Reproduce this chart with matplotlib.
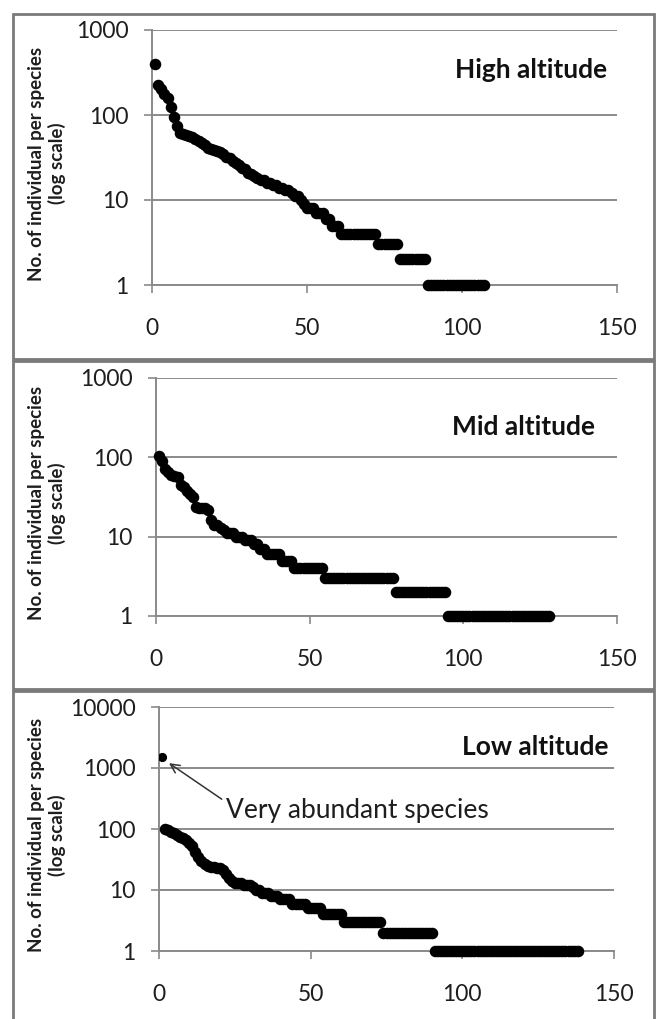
"""Rank-abundance plots for high / mid / low altitude, three stacked boxed panels. Writes out.png."""
import numpy as np
import matplotlib as mpl
mpl.use("Agg")
import matplotlib.pyplot as plt
from matplotlib.patches import Rectangle
from matplotlib.ticker import FixedLocator, NullLocator

plt.rcParams["font.family"] = ["Lato", "DejaVu Sans"]

W, H = 657, 1019
GRID = "#8a8a8a"
BORDER = "#7a7a7a"
INK = "#1e1e1e"

# individuals per species, species ranked from most to least abundant
high = [395, 225, 200, 175, 160, 125, 95, 75, 62, 60, 58, 56, 55, 52, 50, 47, 44, 41, 40, 39,
        38, 37, 35, 32, 31, 29, 27, 26, 24, 23, 21, 20, 19, 18, 17, 17, 16, 16, 15, 15,
        14, 14, 13, 13, 12, 11, 11, 10, 9, 8, 8, 8, 7, 7, 7, 6, 6, 5, 5, 5,
        4, 4, 4, 4, 4, 4, 4, 4, 4, 4, 4, 4,
        3, 3, 3, 3, 3, 3, 3,
        2, 2, 2, 2, 2, 2, 2, 2, 2,
        1, 1, 1, 1, 1, 1, 1, 1, 1, 1, 1, 1, 1, 1, 1, 1, 1, 1, 1]
mid = [105, 90, 72, 65, 60, 58, 57, 45, 42, 38, 35, 32, 24, 23, 23, 23, 22, 16, 14, 14,
       13, 12, 11, 11, 11, 10, 10, 10, 9, 9, 9, 8, 8, 7, 7, 6, 6, 6, 6, 6, 5, 5, 5, 5,
       4, 4, 4, 4, 4, 4, 4, 4, 4, 4,
       3, 3, 3, 3, 3, 3, 3, 3, 3, 3, 3, 3, 3, 3, 3, 3, 3, 3, 3, 3, 3, 3, 3,
       2, 2, 2, 2, 2, 2, 2, 2, 2, 2, 2, 2, 2, 2, 2, 2, 2,
       1, 1, 1, 1, 1, 1, 1, 1, 1, 1, 1, 1, 1, 1, 1, 1, 1, 1, 1, 1, 1, 1, 1, 1, 1, 1, 1, 1,
       1, 1, 1, 1, 1, 1]
low = [1500, 100, 95, 90, 85, 80, 75, 70, 65, 58, 52, 42, 35, 30, 27, 25, 24, 24, 23, 23,
       21, 18, 16, 14, 13, 13, 13, 12, 12, 12, 11, 10, 10, 9, 9, 9, 8, 8, 8, 7,
       7, 7, 7, 6, 6, 6, 6, 6, 5, 5, 5, 5, 5,
       4, 4, 4, 4, 4, 4, 4,
       3, 3, 3, 3, 3, 3, 3, 3, 3, 3, 3, 3, 3,
       2, 2, 2, 2, 2, 2, 2, 2, 2, 2, 2, 2, 2, 2, 2, 2, 2,
       1, 1, 1, 1, 1, 1, 1, 1, 1, 1, 1, 1, 1, 1, 1, 1, 1, 1, 1, 1, 1, 1, 1, 1, 1, 1, 1, 1,
       1, 1, 1, 1, 1, 1, 1, 1, 1, 1, 1, 1, 1, 1, 1, 1, 1, 1, 1, 1]

titles = ["High altitude", "Mid altitude", "Low altitude"]
x_ticks = [0, 50, 100, 150]
y_ticks = [[1, 10, 100, 1000], [1, 10, 100, 1000], [1, 10, 100, 1000, 10000]]
y_label = "No. of individual per species\n(log scale)"
note = "Very abundant species"


def px_axes(l, t, r, b):
    # pixel box (left, top, right, bottom) -> figure fraction rect
    return [l / W, 1 - b / H, (r - l) / W, (b - t) / H]


def style(fig, ax, yt, title, tx, ty, box):
    ax.set_yscale("log")
    ax.set_xlim(0, 150)
    ax.set_ylim(yt[0], yt[-1])
    ax.xaxis.set_major_locator(FixedLocator(x_ticks))
    ax.set_xticklabels([str(v) for v in x_ticks])
    ax.yaxis.set_major_locator(FixedLocator(yt))
    ax.yaxis.set_minor_locator(NullLocator())
    ax.set_yticklabels([str(v) for v in yt])
    ax.grid(axis="y", color=GRID, lw=1.4)
    ax.set_axisbelow(True)
    for s in ("top", "right"):
        ax.spines[s].set_visible(False)
    for s in ("left", "bottom"):
        ax.spines[s].set_color(GRID)
        ax.spines[s].set_linewidth(1.4)
    ax.tick_params(axis="x", length=6, width=1.2, color=GRID, pad=18, labelsize=16.5, labelcolor=INK)
    ax.tick_params(axis="y", length=6, width=1.2, color=GRID, pad=11, labelsize=16.5, labelcolor=INK)
    # y label placed in pixels: centre of the two-line block at x~47, a bit below the axes centre
    cy = (box[1] + box[3]) / 2 + 6
    fig.text(47 / W, 1 - cy / H, y_label, rotation=90, ha="center", va="center", fontsize=13.5,
             fontweight="bold", linespacing=1.22, color=INK, multialignment="center")
    ax.text(tx, ty, title, transform=ax.transAxes, ha="right", va="center",
            fontsize=19, fontweight="bold", color="#111111")


def dots(ax, y, ms):
    r = np.arange(1, len(y) + 1)
    ax.plot(r, y, "o", color="black", ms=ms, mec="black", ls="none", clip_on=False, zorder=3)


def main():
    fig = plt.figure(figsize=(W / 100, H / 100), dpi=100)

    # panel frames
    for top, bot in [(14, 359), (361, 689), (691, 1040)]:
        fig.add_artist(Rectangle((13 / W, 1 - bot / H), (654 - 13) / W, (bot - top) / H,
                                 transform=fig.transFigure, fill=False, ec=BORDER, lw=2.0))

    b1, b2, b3 = (152, 30, 617, 285), (156, 378, 617, 616), (159, 707, 614, 951)
    ax1 = fig.add_axes(px_axes(*b1))
    ax2 = fig.add_axes(px_axes(*b2))
    ax3 = fig.add_axes(px_axes(*b3))

    ms = 7.3
    dots(ax1, high, ms)
    style(fig, ax1, y_ticks[0], titles[0], 0.978, 0.843, b1)

    dots(ax2, mid, ms)
    style(fig, ax2, y_ticks[1], titles[1], 0.952, 0.794, b2)

    r = np.arange(1, len(low) + 1)
    ax3.plot(r[1:], low[1:], "o", color="black", ms=ms, mec="black", ls="none", clip_on=False, zorder=3)
    ax3.plot(r[:1], low[:1], "o", color="black", ms=5.6, ls="none", zorder=3)
    style(fig, ax3, y_ticks[2], titles[2], 0.987, 0.836, b3)
    ax3.annotate(note, xy=(3.3, 1200), xytext=(22, 200), textcoords="data", ha="left", va="center",
                 fontsize=19, color=INK,
                 arrowprops=dict(arrowstyle="->", color="#333333", lw=1.1, relpos=(0, 0.85),
                                 shrinkA=1, shrinkB=0, mutation_scale=16))

    fig.savefig("out.png", dpi=100)
    plt.close(fig)


if __name__ == "__main__":
    main()
